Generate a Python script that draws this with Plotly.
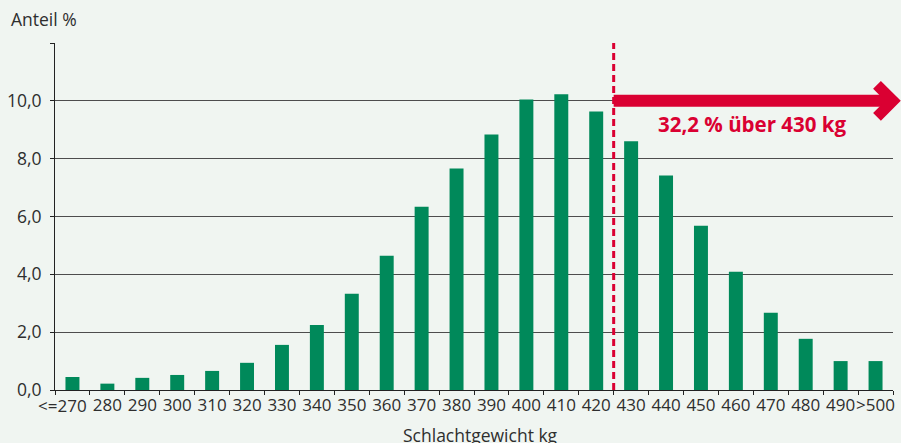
import plotly.graph_objects as go

categories = ["<=270", "280", "290", "300", "310", "320", "330", "340", "350", "360",
              "370", "380", "390", "400", "410", "420", "430", "440", "450", "460",
              "470", "480", "490", ">500"]
shares = [0.45, 0.22, 0.42, 0.52, 0.66, 0.94, 1.56, 2.25, 3.33, 4.64,
          6.34, 7.66, 8.84, 10.05, 10.23, 9.63, 8.6, 7.42, 5.68, 4.09,
          2.67, 1.77, 1.0, 1.0]
x_ticktext = [""] + categories[1:]   # first label is placed separately (shifted left)
y_tickvals = [0, 2, 4, 6, 8, 10, 12]
y_ticktext = ["0,0", "2,0", "4,0", "6,0", "8,0", "10,0", ""]
threshold_label = "32,2 % über 430 kg"
threshold_boundary = 15.5   # between 420 and 430
arrow_level = 10.0

GREEN = "#00895A"
RED = "#DA0032"
BG = "#F0F5F1"
TXT = "#2e2e2e"
YMAX = 12
FONT = "Open Sans"
FS = 17.5
XFS = 17

fig = go.Figure()
fig.add_trace(go.Bar(x=categories, y=shares, marker=dict(color=GREEN, line=dict(width=0)),
                     hoverinfo="skip"))

L, R, T, B = 55, 8, 43, 53
W, H = 901, 443
pw = W - L - R
ph = H - T - B
ncat = len(categories)

def xpaper_from_cat(c):
    return (c + 0.5) / ncat

ay = arrow_level / YMAX
x_start = xpaper_from_cat(threshold_boundary)
x_tip = (893 - L) / pw
x_line_end = (886 - L) / pw
x_arm = (877 - L) / pw
dy = 16 / ph

shapes = [
    dict(type="line", xref="x", yref="paper", x0=threshold_boundary, x1=threshold_boundary,
         y0=0, y1=1, line=dict(color=RED, width=3, dash="7px,4px"), layer="above"),
    dict(type="line", xref="paper", yref="paper", x0=x_start, x1=x_line_end, y0=ay, y1=ay,
         line=dict(color=RED, width=12), layer="above"),
    dict(type="path", xref="paper", yref="paper",
         path=f"M {x_arm} {ay + dy} L {x_tip} {ay} L {x_arm} {ay - dy}",
         line=dict(color=RED, width=11), layer="above"),
]

annotations = [
    dict(text=threshold_label, xref="paper", yref="paper", x=(752.5 - L) / pw,
         y=(arrow_level - 0.8) / YMAX, xanchor="center", yanchor="middle", showarrow=False,
         font=dict(family=FONT, size=20.5, color=RED, weight="bold")),
    dict(text="Anteil %", xref="paper", yref="paper", x=(9 - L) / pw, y=(H - B - 19) / ph,
         xanchor="left", yanchor="middle", showarrow=False,
         font=dict(family=FONT, size=FS, color=TXT)),
    dict(text="Schlachtgewicht kg", xref="paper", yref="paper", x=(480 - L) / pw,
         y=-(435 - (H - B)) / ph, xanchor="center", yanchor="middle", showarrow=False,
         font=dict(family=FONT, size=FS, color=TXT)),
    dict(text=categories[0], xref="paper", yref="paper", x=(89 - L) / pw,
         y=-(405.5 - (H - B)) / ph, xanchor="right", yanchor="middle", showarrow=False,
         font=dict(family=FONT, size=XFS, color=TXT)),
]

fig.update_layout(
    width=W, height=H,
    margin=dict(l=L, r=R, t=T, b=B, autoexpand=False),
    paper_bgcolor=BG, plot_bgcolor=BG,
    separators=",.",
    bargap=0.6,
    showlegend=False,
    shapes=shapes,
    annotations=annotations,
    font=dict(family=FONT, size=FS, color=TXT),
    xaxis=dict(type="category", tickson="boundaries", ticks="outside", ticklen=4,
               tickcolor="#222", showline=True, linecolor="#222", linewidth=1,
               showgrid=False, tickfont=dict(family=FONT, size=XFS, color=TXT),
               tickvals=categories, ticktext=x_ticktext,
               tickangle=0, automargin=False, fixedrange=True, zeroline=False),
    yaxis=dict(range=[0, YMAX], tickvals=y_tickvals, ticktext=y_ticktext,
               ticks="outside", ticklen=4, tickcolor="#222", showline=True,
               linecolor="#222", linewidth=1, showgrid=True, gridcolor="#4d4d4d",
               gridwidth=1, zeroline=False, tickfont=dict(family=FONT, size=FS, color=TXT),
               ticklabelstandoff=5, automargin=False, fixedrange=True),
)

fig.write_html("out.html")
